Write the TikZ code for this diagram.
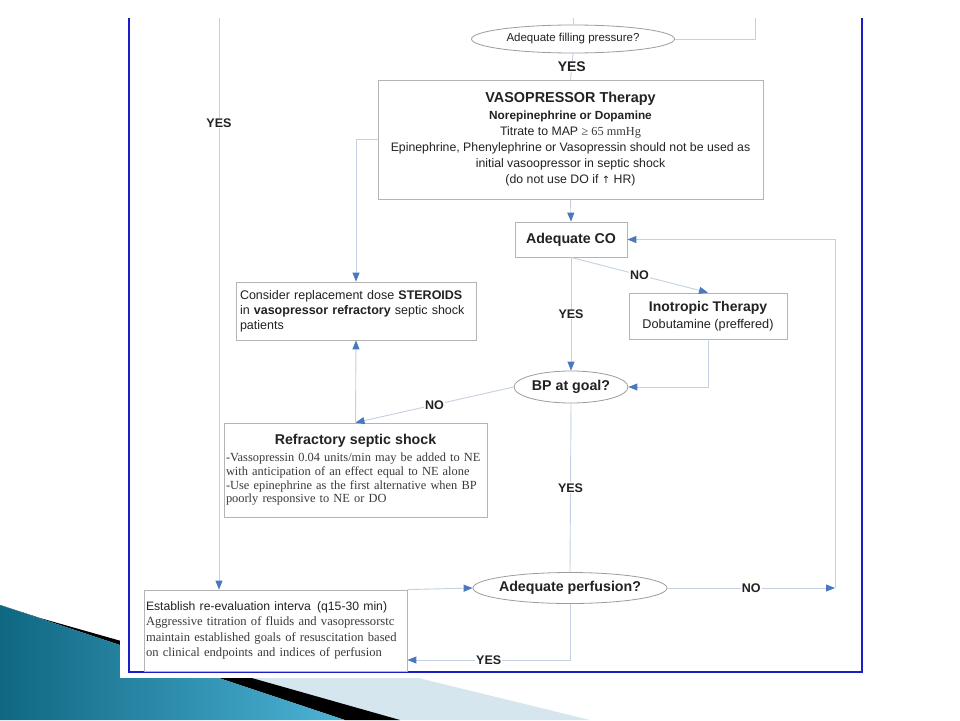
\documentclass[tikz,border=0pt]{standalone}
\usepackage{fontspec}
\setmainfont{Liberation Serif}
\setsansfont{Liberation Sans}
\newfontfamily\dejavu{DejaVu Sans}
\usetikzlibrary{shapes.geometric,arrows.meta,calc}
\definecolor{linec}{HTML}{C3D1E2}
\definecolor{arrc}{HTML}{4A78BE}
\definecolor{boxc}{HTML}{B4B4B4}
\definecolor{ellc}{HTML}{9C9C9C}
\definecolor{textc}{HTML}{222222}
\definecolor{sertxt}{HTML}{3A3A3A}
\definecolor{blueb}{HTML}{1C1CC8}
\definecolor{tealA}{HTML}{0F6782}
\definecolor{tealB}{HTML}{4DB3D6}
\definecolor{lightb}{HTML}{D6E6EF}
\begin{document}
\begin{tikzpicture}[x=1pt,y=-1pt,
  every node/.style={font=\sffamily},
  box/.style={draw=boxc, line width=0.8pt, fill=white, inner sep=2pt, text=textc},
  ell/.style={ellipse, draw=ellc, line width=0.8pt, fill=white, inner sep=0pt, text=textc},
  conn/.style={draw=linec, line width=0.9pt},
  arr/.style={conn, -{Triangle[length=9pt,width=7pt,color=arrc]}},
  lab/.style={fill=white, inner sep=1pt, text=textc, font=\sffamily\bfseries\fontsize{12.5}{14}\selectfont}]
\useasboundingbox (0,0) rectangle (960,720);
\fill[white] (0,0) rectangle (960,720);
% decoration
\fill[lightb] (120,605) -- (590,720) -- (380,720) -- (120,640) -- cycle;
\fill[black] (0,605) -- (40,618) -- (400,720) -- (345,720) -- cycle;
\shade[left color=tealA, right color=tealB] (0,605) -- (345,720) -- (0,720) -- cycle;
% panel
\fill[white] (120,0) rectangle (868,678);
\draw[blueb, line width=2.5pt] (129,18) -- (129,672) -- (862,672) -- (862,18);

% nodes
\node[ell, minimum width=203pt, minimum height=28pt, font=\sffamily\fontsize{11.5}{13}\selectfont] (fill) at (573,39) {Adequate filling pressure?};
\node[box, minimum width=385pt, minimum height=119pt, align=center, font=\sffamily\fontsize{12.3}{16.2}\selectfont] (vaso) at (570.5,139.5)
 {{\fontsize{14.4}{16}\selectfont\bfseries VASOPRESSOR Therapy}\\
  {\bfseries\fontsize{11.8}{13}\selectfont Norepinephrine or Dopamine}\\
  Titrate to MAP {\rmfamily\color{sertxt}≥ 65 mmHg}\\
  Epinephrine, Phenylephrine or Vasopressin should not be used as\\
  initial vasoopressor in septic shock\\
  (do not use DO if {\dejavu\fontsize{10}{12}\selectfont ↑} HR)};
\node[box, minimum width=112pt, minimum height=35pt, font=\sffamily\bfseries\fontsize{14.2}{16}\selectfont] (co) at (571,239.5) {Adequate CO};
\node[box, minimum width=240pt, minimum height=58pt, text width=232pt, align=left, font=\sffamily\fontsize{12.5}{15}\selectfont] (ster) at (356,311)
 {Consider replacement dose \textbf{STEROIDS}\\ in \textbf{vasopressor refractory} septic shock\\ patients};
\node[box, minimum width=158pt, minimum height=46pt, align=center, font=\sffamily\fontsize{12.7}{17.5}\selectfont] (ino) at (708,316)
 {{\bfseries\fontsize{14}{15}\selectfont Inotropic Therapy}\\ Dobutamine (preffered)};
\node[ell, minimum width=114pt, minimum height=32pt, font=\sffamily\bfseries\fontsize{14.2}{16}\selectfont] (bp) at (571,387) {BP at goal?};
\node[box, minimum width=263pt, minimum height=94pt, text width=259pt, align=left, font=\rmfamily\fontsize{12.4}{13.7}\selectfont, text=sertxt] (refr) at (355.5,470)
 {\makebox[\linewidth][c]{\color{textc}\sffamily\bfseries\fontsize{14.2}{15}\selectfont Refractory septic shock}\\[3pt]
  -Vassopressin 0.04 units/min may be added to NE\\
  with anticipation of an effect equal to NE alone\\
  -Use epinephrine as the first alternative when BP\\
  poorly responsive to NE or DO};
\node[ell, minimum width=194pt, minimum height=31pt, inner xsep=-5pt, font=\sffamily\bfseries\fontsize{14.2}{16}\selectfont] (perf) at (570,588) {Adequate perfusion?};
\node[box, minimum width=263pt, minimum height=81pt, text width=259pt, align=left, font=\rmfamily\fontsize{12.6}{15.5}\selectfont, text=sertxt] (reeval) at (275.5,630.5)
 {{\sffamily\color{textc}\fontsize{12.2}{15}\selectfont Establish re-evaluation interva\enspace(q15-30 min)}\\
  Aggressive titration of fluids and vasopressorstc\\
  maintain established goals of resuscitation based\\
  on clinical endpoints and indices of perfusion};

% free ends
\coordinate (topc) at (573,18);
\coordinate (rtop) at (755,18);
\coordinate (ltop) at (219,18);
\coordinate (rc) at (835,588);
\coordinate (yb) at (573,660);

% connectors
\draw[conn] (topc) -- (fill.north);
\draw[conn] (fill.east) -| (rtop);
\draw[conn] (fill.south) -- node[lab, font=\sffamily\bfseries\fontsize{14}{16}\selectfont]{YES} (vaso.north);
\draw[arr] (vaso.south) -- (co.north);
\draw[arr] (vaso.west) -| (ster.north);
\draw[arr] (co.south) -- node[lab]{YES} (bp.north);
\draw[arr] (co.south) -- node[lab]{NO} (ino.north);
\draw[arr] (ino.south) |- (bp.east);
\draw[arr] (bp.west) -- node[lab]{NO} (refr.north);
\draw[arr] (refr.north) -- (ster.south);
\draw[conn] (bp.south) -- node[lab]{YES} (perf.north);
\draw[arr] (ltop) -- (ltop |- reeval.north);
\node[lab] at (219,123) {YES};
\draw[arr] (reeval.north east) -- (perf.west);
\draw[arr] (perf.east) -- node[lab]{NO} (rc);
\draw[arr] (rc) |- (co.east);
\draw[arr] (perf.south) -- (perf.south |- yb) -- node[lab]{YES} (reeval.east |- yb);
\end{tikzpicture}
\end{document}
